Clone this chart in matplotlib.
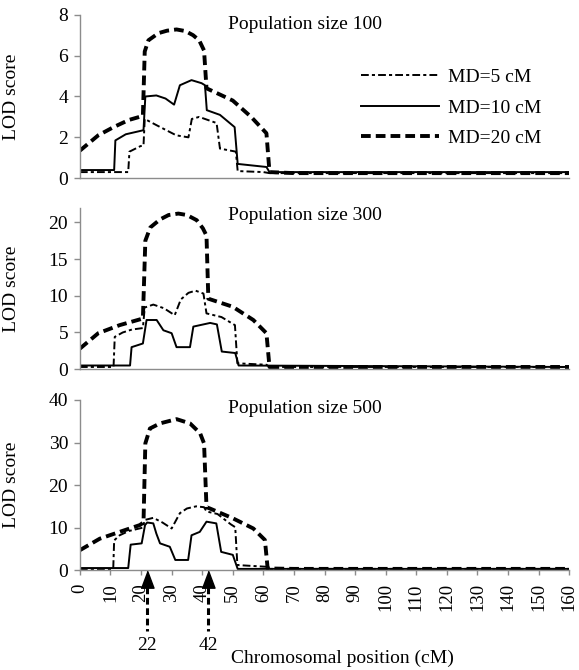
import numpy as np
import matplotlib.pyplot as plt
import matplotlib.transforms as mtransforms

plt.rcParams['font.family'] = ['Liberation Serif', 'DejaVu Serif']

# LOD profiles (x in cM, y = LOD); paired x values mark steps
# population size 100
p100_md5_x = [0, 15.8, 16.2, 19.8, 20.8, 21.2, 25, 31.5, 35.5, 36.6, 39, 44.7, 45.8, 51, 51.6, 60, 62, 160]
p100_md5_y = [0.3, 0.3, 1.3, 1.57, 1.6, 2.9, 2.6, 2.1, 2.0, 2.9, 3.0, 2.7, 1.45, 1.3, 0.35, 0.3, 0.25, 0.25]
p100_md10_x = [0, 11.2, 11.6, 15, 20.8, 21.4, 25, 28, 30.8, 32.7, 36.5, 39.8, 40.9, 41.5, 45.8, 50.6, 51.6, 61, 62, 160]
p100_md10_y = [0.4, 0.4, 1.85, 2.15, 2.35, 4.0, 4.05, 3.9, 3.6, 4.55, 4.8, 4.65, 4.55, 3.33, 3.1, 2.5, 0.7, 0.55, 0.3, 0.3]
p100_md20_x = [0, 6, 11, 16, 20.6, 21.2, 22.4, 25.7, 28.5, 31.6, 34.5, 37, 39, 40.6, 41.4, 45, 50, 56, 61, 62, 70, 160]
p100_md20_y = [1.35, 2.1, 2.5, 2.85, 3.05, 6.2, 6.75, 7.1, 7.22, 7.28, 7.2, 7.0, 6.75, 6.25, 4.4, 4.15, 3.8, 3.0, 2.2, 0.3, 0.25, 0.25]

# population size 300
p300_md5_x = [0, 11, 11.4, 14, 17, 20.6, 21.2, 24, 27.5, 31, 33, 35.5, 37.8, 40.4, 41.4, 46.3, 50.7, 51.5, 61, 62, 160]
p300_md5_y = [0.3, 0.3, 4.4, 5.0, 5.4, 5.6, 8.4, 8.8, 8.3, 7.35, 9.5, 10.4, 10.7, 10.3, 7.6, 7.1, 6.0, 0.8, 0.6, 0.3, 0.3]
p300_md10_x = [0, 16.4, 16.9, 20.6, 21.8, 25.1, 27.3, 30, 31.6, 36, 37.1, 40.4, 42.6, 44.8, 46.4, 50.8, 51.9, 160]
p300_md10_y = [0.5, 0.5, 3.0, 3.5, 6.7, 6.7, 5.3, 4.9, 3.0, 3.0, 5.8, 6.1, 6.3, 6.1, 2.4, 2.2, 0.5, 0.3]
p300_md20_x = [0, 6, 13, 20.6, 21.4, 23, 26.2, 29, 32.2, 35, 38.2, 40.2, 41.4, 42, 50, 56.7, 61, 62, 70, 160]
p300_md20_y = [2.8, 4.9, 6.0, 6.9, 17.5, 19.3, 20.4, 21.0, 21.2, 21.0, 20.3, 19.2, 18.2, 9.6, 8.5, 6.7, 4.9, 0.3, 0.3, 0.3]

# population size 500
p500_md5_x = [0, 10.9, 11.2, 13, 16, 20.6, 21.2, 24, 27, 30, 32.7, 35, 38, 40.6, 41.4, 45, 49.3, 50.8, 51.5, 61, 62, 160]
p500_md5_y = [0.3, 0.3, 7.0, 8.2, 9.2, 10.0, 11.8, 12.3, 11.2, 9.8, 13.4, 14.5, 15.0, 14.8, 13.8, 13.2, 10.8, 10.1, 1.2, 0.8, 0.3, 0.3]
p500_md10_x = [0, 15.8, 16.6, 20.2, 21.3, 22, 24, 25, 26.2, 29.4, 31.2, 35.4, 36.5, 39.2, 41.4, 44.6, 46.2, 50, 51.6, 160]
p500_md10_y = [0.5, 0.5, 6.0, 6.3, 10.6, 11.2, 11.0, 8.6, 6.3, 5.5, 2.4, 2.4, 8.2, 9.0, 11.4, 11.0, 4.3, 3.6, 0.3, 0.3]
p500_md20_x = [0, 6.5, 13, 19.6, 20.8, 21.4, 22.9, 26.2, 31.6, 36, 39.3, 40.6, 41.4, 42.5, 50, 56.7, 60.5, 61.4, 70, 160]
p500_md20_y = [4.7, 7.4, 9.0, 10.6, 11.2, 29.8, 33.3, 34.5, 35.5, 34.5, 32.2, 29.8, 14.8, 14.5, 12.2, 9.8, 7.1, 0.4, 0.3, 0.3]

panels = [
    ("Population size 100", (p100_md5_x, p100_md5_y), (p100_md10_x, p100_md10_y), (p100_md20_x, p100_md20_y), 8, 2),
    ("Population size 300", (p300_md5_x, p300_md5_y), (p300_md10_x, p300_md10_y), (p300_md20_x, p300_md20_y), 22, 5),
    ("Population size 500", (p500_md5_x, p500_md5_y), (p500_md10_x, p500_md10_y), (p500_md20_x, p500_md20_y), 40, 10),
]
labels = ["MD=5 cM", "MD=10 cM", "MD=20 cM"]
qtl_pos = [22, 42]

fig = plt.figure(figsize=(5.79, 6.70), dpi=100)
# axes boxes in figure fraction: left, bottom, width, height
boxes = [(0.138, 0.734, 0.845, 0.244),
         (0.138, 0.449, 0.845, 0.241),
         (0.138, 0.149, 0.845, 0.254)]
axcol = '#8c8c8c'
fs = 14

axes = []
for i, (title, s5, s10, s20, ymax, ystep) in enumerate(panels):
    ax = fig.add_axes(boxes[i])
    ax.plot(s5[0], s5[1], color='black', lw=1.4, dashes=(4, 1.6, 1.6, 1.6), label=labels[0])
    ax.plot(s10[0], s10[1], color='black', lw=1.4, label=labels[1])
    ax.plot(s20[0], s20[1], color='black', lw=2.8, dashes=(2.5, 1.3), label=labels[2])
    ax.set_xlim(0, 160)
    ax.set_ylim(0, ymax)
    ax.set_yticks(np.arange(0, ymax + 0.1, ystep))
    ax.set_xticks(np.arange(0, 161, 10))
    for s in ['top', 'right']:
        ax.spines[s].set_visible(False)
    for s in ['left', 'bottom']:
        ax.spines[s].set_color(axcol)
        ax.spines[s].set_linewidth(1.0)
    ax.tick_params(axis='y', colors=axcol, labelcolor='black', labelsize=fs, length=4.5, width=1.0, pad=4)
    ax.tick_params(axis='x', colors=axcol, labelcolor='black', labelsize=13.5, length=3.5, width=1.0,
                   labelrotation=90, pad=6)
    if i < 2:
        ax.tick_params(axis='x', length=0, labelbottom=False)
    ax.set_ylabel("LOD score", fontsize=fs)
    ax.yaxis.set_label_coords(-0.122, 0.5)
    ax.text(0.303, 0.95 if i else 0.94, title, transform=ax.transAxes, fontsize=fs,
            ha='left', va='center')
    axes.append(ax)

axes[0].legend(loc='upper left', bbox_to_anchor=(0.575, 0.67), frameon=False, fontsize=fs,
               handlelength=4.0, handletextpad=0.45, labelspacing=0.65, borderpad=0, borderaxespad=0)

# QTL position arrows under the bottom panel
axb = axes[2]
trans = mtransforms.blended_transform_factory(axb.transData, axb.transAxes)
for q in qtl_pos:
    axb.plot([q, q], [-0.10, -0.36], transform=trans, color='black', lw=2.2, dashes=(2.2, 1.2),
             clip_on=False)
    axb.plot([q], [-0.052], transform=trans, color='black', marker=[(-0.75, -1), (0.75, -1), (0, 1)],
             markersize=12.5, clip_on=False, ls='none')
    axb.text(q, -0.445, str(q), transform=trans, ha='center', va='center', fontsize=fs)

fig.text(342 / 579, 1 - 658 / 670, "Chromosomal position (cM)", ha='center', va='center', fontsize=fs)

fig.savefig("out.png", dpi=100)
